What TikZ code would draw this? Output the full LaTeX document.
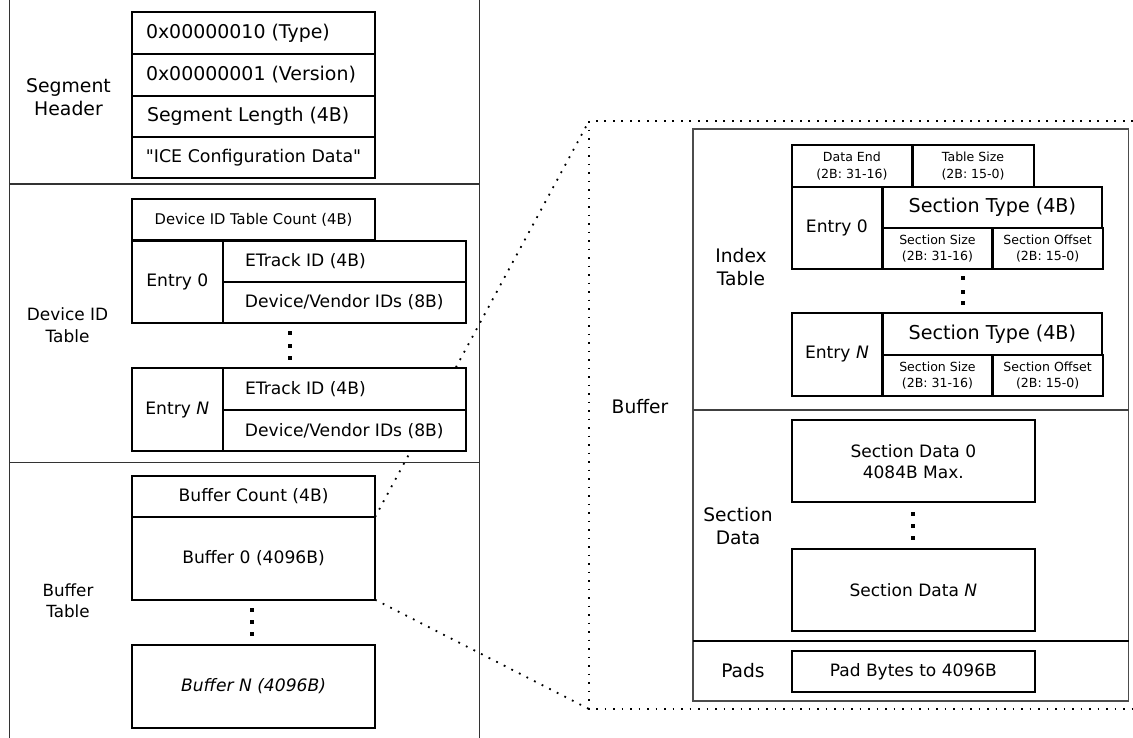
\documentclass[tikz,border=0pt]{standalone}
\usepackage{fontspec}
\setmainfont{DejaVu Sans}
\newcommand\fsz[2]{\fontsize{#1}{#2}\selectfont}
\newcommand\dotcol[4]{\fill (#1-2,#2-2) rectangle +(4,4);\fill (#1-2,#3-2) rectangle +(4,4);\fill (#1-2,#4-2) rectangle +(4,4);}
\begin{document}
\begin{tikzpicture}[x=1bp,y=-1bp,
  panel/.style={draw=black!80,line width=1.3bp},
  cell/.style={draw=black,line width=2bp,fill=white,inner sep=0pt,outer sep=0pt,anchor=north west,align=center},
  txt/.style={inner sep=0pt,outer sep=0pt,align=center},
  dotl/.style={line width=1.8bp,dash pattern=on 1.8bp off 6.7bp},
  fHead/.style={font=\fsz{19}{23}},
  fIce/.style={font=\fsz{17.5}{21}},
  fCnt/.style={font=\fsz{14.8}{18}},
  fEnt/.style={font=\fsz{17.2}{21}},
  fLab/.style={font=\fsz{18.7}{23.5}},
  fType/.style={font=\fsz{19.2}{23}},
  fSm/.style={font=\fsz{12.6}{16.5}},
  fSD/.style={font=\fsz{17.1}{21}}
]
\useasboundingbox (0,0) rectangle (1133,738);

% ---------- left panel frame ----------
\draw[panel] (9.5,0) -- (9.5,738);
\draw[panel] (479.5,0) -- (479.5,738);
\draw[panel] (9.5,184) -- (479.5,184);
\draw[panel] (9.5,462.5) -- (479.5,462.5);

% ---------- zoom frame coordinates ----------
\coordinate (zTL) at (589,121);
\coordinate (zBL) at (589,709);
\coordinate (zTR) at (1133,121);
\coordinate (zBR) at (1133,709);

% ---------- buffer table (needed for connectors) ----------
\node[cell,minimum width=244,minimum height=83] (buf0) at (132,517) {};

% connectors (drawn below boxes)
\draw[dotl] (zTR) -- (zTL) -- (zBL) -- (zBR);
\draw[dotl] (buf0.north east) -- (zTL);
\draw[dotl] (buf0.south east) -- (zBL);

% ---------- segment header ----------
\node[txt,fLab,font=\fsz{18.9}{23.5}] (lSH) at (68.5,97) {Segment\\Header};
\node[cell,minimum width=244,minimum height=42] (h1) at (132,12) {};
\node[cell,minimum width=244,minimum height=42] (h2) at (132,54) {};
\node[cell,minimum width=244,minimum height=41] (h3) at (132,96) {};
\node[cell,minimum width=244,minimum height=41,fIce] (h4) at (132,137) {\textquotedbl ICE Configuration Data\textquotedbl};
\node[txt,fHead,anchor=west] (t1) at (146,33) {0x00000010 (Type)};
\node[txt,fHead,anchor=west] (t2) at (146,75) {0x00000001 (Version)};
\node[txt,fHead,anchor=west] (t3) at (147,116.5) {Segment Length (4B)};

% ---------- device ID table ----------
\node[txt,font=\fsz{17}{21.5}] (lDT) at (67.5,325) {Device ID\\Table};
\node[cell,minimum width=244,minimum height=41.5,fCnt] (dcnt) at (132,199) {Device ID Table Count (4B)};
\node[cell,minimum width=91,minimum height=82.5,fEnt] (e0) at (132,240.5) {Entry 0};
\node[cell,minimum width=243.5,minimum height=41.5] (e0a) at (223,240.5) {};
\node[cell,minimum width=243.5,minimum height=41,fEnt] (e0b) at (223,282) {Device/Vendor IDs (8B)};
\node[txt,fEnt,anchor=west] (e0at) at (245,261) {ETrack ID (4B)};
\dotcol{290}{333}{345.5}{358}
\node[cell,minimum width=91,minimum height=83.5,fEnt] (eN) at (132,368) {Entry \textit{N}};
\node[cell,minimum width=243.5,minimum height=42] (eNa) at (223,368) {};
\node[cell,minimum width=243.5,minimum height=41.5,fEnt] (eNb) at (223,410) {Device/Vendor IDs (8B)};
\node[txt,fEnt,anchor=west] (eNat) at (245,389) {ETrack ID (4B)};

% ---------- buffer table ----------
\node[txt,font=\fsz{16.8}{21.5}] (lBT) at (68,601) {Buffer\\Table};
\node[cell,minimum width=244,minimum height=41,fEnt] (bcnt) at (132,476) {Buffer Count (4B)};
\node[txt,fEnt] (buf0t) at (buf0.center) {Buffer 0 (4096B)};
\dotcol{252}{610}{622}{634}
\node[cell,minimum width=244,minimum height=83,fEnt] (bufN) at (132,645) {\itshape Buffer N (4096B)};

% ---------- buffer detail ----------
\draw[draw=black!70,line width=1.5bp] (693,129) rectangle (1128.5,701);
\draw[draw=black!75,line width=1.8bp] (693,410) -- (1128.5,410);
\draw[draw=black,line width=1.3bp] (693,641) -- (1128.5,641);
\node[txt,fLab] (lBuf) at (640,407) {Buffer};

% index table
\node[txt,fLab] (lIT) at (741,267) {Index\\Table};
\node[cell,minimum width=121,minimum height=42,fSm] (dend) at (791.6,145) {Data End\\(2B: 31-16)};
\node[cell,minimum width=121.4,minimum height=42,fSm] (tsz) at (912.6,145) {Table Size\\(2B: 15-0)};
\node[cell,minimum width=91,minimum height=82.3,fEnt] (i0) at (791.6,187) {Entry 0};
\node[cell,minimum width=220.4,minimum height=40.7,fType] (i0t) at (882.6,187) {Section Type (4B)};
\node[cell,minimum width=110.1,minimum height=41.6,fSm] (i0s) at (882.6,227.7) {Section Size\\(2B: 31-16)};
\node[cell,minimum width=110.3,minimum height=41.6,fSm] (i0o) at (992.7,227.7) {Section Offset\\(2B: 15-0)};
\dotcol{962.7}{278.3}{291.5}{303.3}
\node[cell,minimum width=91,minimum height=82.7,fEnt] (iN) at (791.6,313.3) {Entry \textit{N}};
\node[cell,minimum width=220.4,minimum height=41.7,fType] (iNt) at (882.6,313.3) {Section Type (4B)};
\node[cell,minimum width=110.1,minimum height=41,fSm] (iNs) at (882.6,355) {Section Size\\(2B: 31-16)};
\node[cell,minimum width=110.3,minimum height=41,fSm] (iNo) at (992.7,355) {Section Offset\\(2B: 15-0)};

% section data
\node[txt,fLab] (lSD) at (738,526) {Section\\Data};
\node[cell,minimum width=244.4,minimum height=82.7,fSD] (sd0) at (791.6,420) {Section Data 0\\4084B Max.};
\dotcol{912.6}{514.3}{526}{538.3}
\node[cell,minimum width=244.4,minimum height=82.4,fSD] (sdN) at (791.6,549.3) {Section Data \textit{N}};

% pads
\node[txt,fLab] (lPad) at (743,671) {Pads};
\node[cell,minimum width=244.4,minimum height=41,fSD] (pad) at (791.6,651) {Pad Bytes to 4096B};
\end{tikzpicture}
\end{document}
